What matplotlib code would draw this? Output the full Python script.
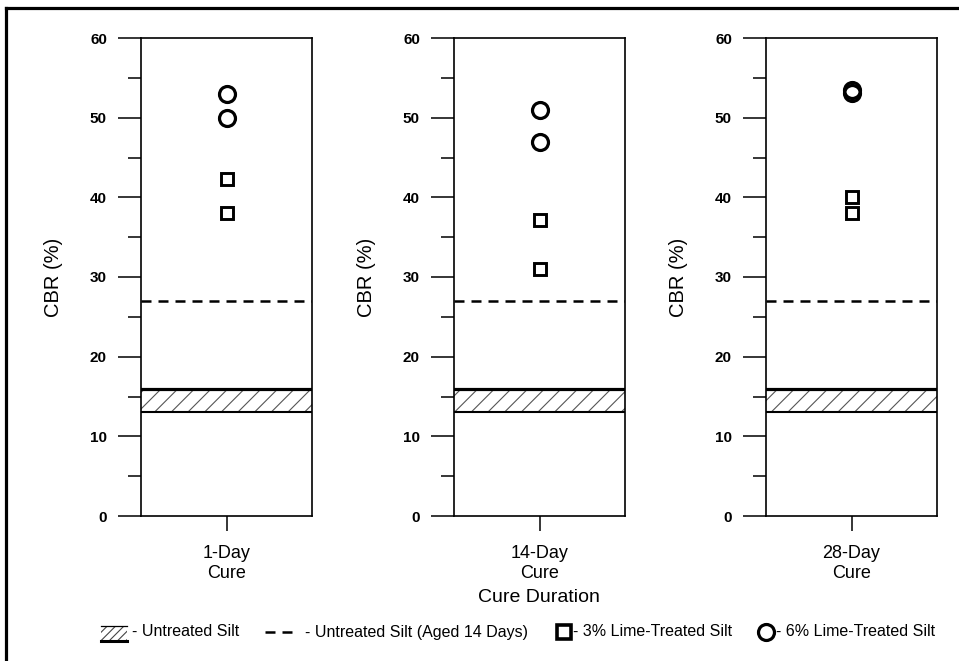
import matplotlib
matplotlib.use('Agg')
import matplotlib.pyplot as plt
from matplotlib.patches import Rectangle

plt.rcParams['font.family'] = ['Liberation Sans', 'DejaVu Sans']
plt.rcParams['hatch.linewidth'] = 0.8
plt.rcParams['hatch.color'] = '#555555'

cure_labels = ['1-Day\nCure', '14-Day\nCure', '28-Day\nCure']
lime3 = [[42.3, 38.0], [37.1, 31.0], [40.1, 38.0]]
lime6 = [[53.0, 49.9], [50.9, 47.0], [53.5, 53.1]]
untreated_low = 13.0
untreated_high = 16.0
untreated_aged = 27.0

W, H = 959, 661
fig = plt.figure(figsize=(W / 100, H / 100), dpi=100)

lefts = [141, 454, 766]
ax_w, ax_top, ax_bot = 171, 38, 516

for i, left in enumerate(lefts):
    ax = fig.add_axes([left / W, (H - ax_bot) / H, ax_w / W, (ax_bot - ax_top) / H])
    ax.set_xlim(0, 1)
    ax.set_ylim(0, 60)

    # untreated silt band
    ax.axhspan(untreated_low, untreated_high, facecolor='white', edgecolor='#555555',
               hatch='//', linewidth=0, zorder=1)
    ax.axhline(untreated_high, color='black', lw=2.3, zorder=2)
    ax.axhline(untreated_low, color='black', lw=1.5, zorder=2)
    # untreated silt aged 14 days
    ax.axhline(untreated_aged, color='black', lw=1.8, linestyle=(0, (4, 2.8)), zorder=2)

    ax.plot([0.5] * len(lime3[i]), lime3[i], linestyle='none', marker='s', ms=9,
            mfc='white', mec='black', mew=2.1, zorder=3)
    ax.plot([0.5] * len(lime6[i]), lime6[i], linestyle='none', marker='o', ms=11.5,
            mfc='none', mec='black', mew=2.3, zorder=3)

    ax.set_yticks(range(0, 61, 10))
    ax.set_yticks(range(5, 60, 10), minor=True)
    ax.tick_params(axis='y', which='major', direction='out', length=16.5, width=1.1,
                   pad=8, labelsize=11)
    ax.tick_params(axis='y', which='minor', direction='out', length=9.5, width=1.1)
    for lab in ax.get_yticklabels():
        lab.set_fontweight('bold')
    ax.set_xticks([0.5])
    ax.set_xticklabels([cure_labels[i]], fontsize=13, linespacing=1.2)
    ax.tick_params(axis='x', direction='out', length=11, width=1.1, pad=10)
    for sp in ax.spines.values():
        sp.set_linewidth(1.2)
    ax.set_ylabel('CBR (%)', fontsize=14.5)
    ax.yaxis.set_label_coords(-0.455, 0.5)

fig.text(539 / W, 1 - 598 / H, 'Cure Duration', fontsize=14, ha='center', va='center')

# legend strip and outer frame, drawn in pixel units
ov = fig.add_axes([0, 0, 1, 1], zorder=-1)
ov.set_xlim(0, W)
ov.set_ylim(H, 0)
ov.axis('off')

ov.plot([6, 6], [8, H], color='black', lw=2.3)
ov.plot([6, W], [8, 8], color='black', lw=2.3)

ly = 632
ov.add_patch(Rectangle((101, 626), 26, 15, facecolor='white', edgecolor='#444444',
                       hatch='////', linewidth=0))
ov.plot([101, 127], [626, 626], color='black', lw=0.9)
ov.plot([101, 127], [641, 641], color='black', lw=2.2)
ov.text(132, ly, '- Untreated Silt', fontsize=11.5, va='center')

ov.plot([265, 296], [ly, ly], color='black', lw=1.8, linestyle=(0, (4, 2.8)))
ov.text(305, ly, '- Untreated Silt (Aged 14 Days)', fontsize=11.5, va='center')

ov.plot([564], [ly], marker='s', ms=10, mfc='white', mec='black', mew=2.6)
ov.text(573, ly, '- 3% Lime-Treated Silt', fontsize=11.5, va='center')

ov.plot([765.5], [ly], marker='o', ms=11.5, mfc='none', mec='black', mew=2.3)
ov.text(776, ly, '- 6% Lime-Treated Silt', fontsize=11.5, va='center')

fig.savefig('out.png', dpi=100)
